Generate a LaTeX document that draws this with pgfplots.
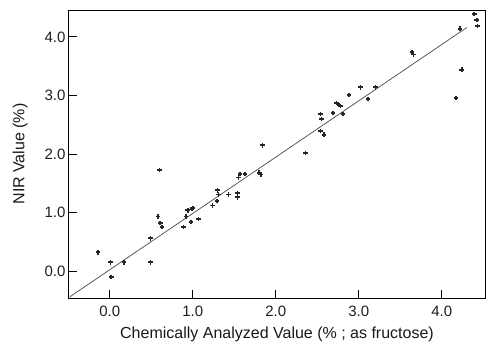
\documentclass[border=0pt]{standalone}
\usepackage{pgfplots}
\pgfplotsset{compat=1.18}
\usepackage{fontspec}
\setmainfont{Liberation Sans}
\begin{document}
\begin{tikzpicture}
\begin{axis}[
  scale only axis,
  width=416pt, height=288pt,
  xmin=-0.49, xmax=4.52, ymin=-0.46, ymax=4.46,
  axis line style={line width=1pt},
  xtick={0,1,2,3,4}, ytick={0,1,2,3,4},
  xtick pos=bottom, ytick pos=left,
  tick align=inside,
  major tick length=8pt,
  tick style={line width=1pt, black},
  /pgf/number format/assume math mode=true,
  /pgf/number format/fixed, /pgf/number format/fixed zerofill,
  /pgf/number format/precision=1,
  ticklabel style={font=\fontsize{15}{18}\selectfont, text=black!88},
  label style={font=\fontsize{16}{19}\selectfont, text=black!90},
  xlabel={Chemically Analyzed Value (\% ; as fructose)},
  ylabel={NIR Value (\%)},
  xlabel style={yshift=-4pt},
  ylabel style={yshift=10pt},
  xticklabel style={yshift=-4pt},
  clip=true,
]
% fitted calibration line
\addplot[gray!70!black, line width=0.8pt] coordinates {(-0.48,-0.44) (4.30,4.16)};
% samples
\addplot[only marks, mark=+, mark size=2.3pt, line width=1.7pt, black!85] table {
x y
-0.14 0.32
0.01 0.15
0.02 -0.10
0.17 0.15
0.49 0.15
0.49 0.56
0.58 0.93
0.61 0.82
0.63 0.75
0.60 1.73
0.89 0.75
0.92 0.93
0.94 1.04
0.99 1.06
1.00 1.08
0.98 0.84
1.07 0.89
1.24 1.12
1.30 1.38
1.31 1.31
1.29 1.20
1.43 1.31
1.54 1.33
1.54 1.26
1.55 1.60
1.57 1.66
1.63 1.66
1.80 1.68
1.82 1.65
1.84 2.15
2.36 2.02
2.54 2.39
2.58 2.33
2.54 2.68
2.55 2.60
2.69 2.70
2.73 2.87
2.76 2.84
2.78 2.82
2.81 2.68
2.88 3.01
3.02 3.14
3.11 2.94
3.20 3.14
3.64 3.74
3.66 3.70
4.17 2.96
4.22 4.14
4.24 3.44
4.39 4.39
4.42 4.29
4.43 4.19
};
\end{axis}
\pgfresetboundingbox
\path ([shift={(-69pt,-49pt)}]current axis.south west) rectangle ([shift={(2pt,10pt)}]current axis.north east);
\end{tikzpicture}
\end{document}
